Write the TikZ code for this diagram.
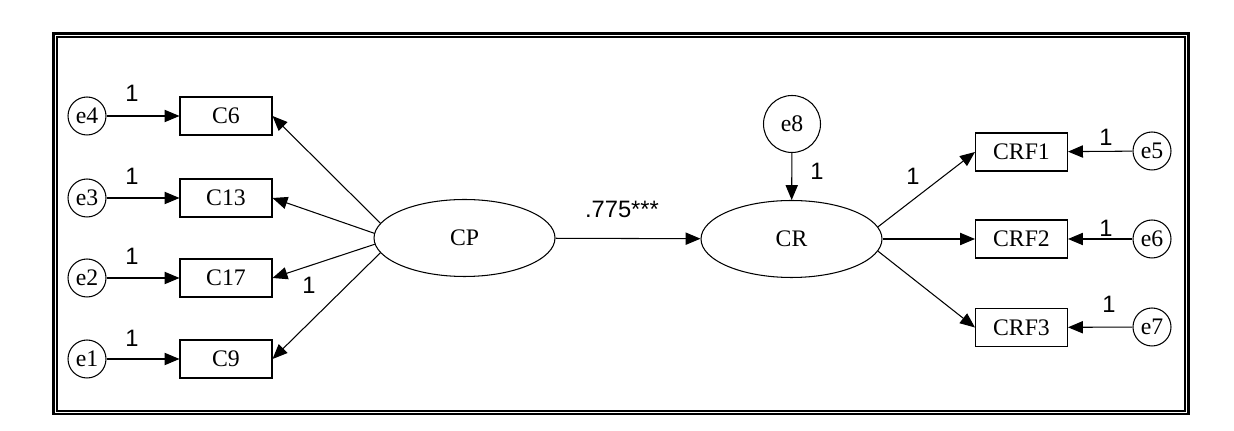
\documentclass[tikz,border=0pt]{standalone}
\usepackage{fontspec}
\setmainfont{Liberation Serif}
\newfontfamily\lblfont{Liberation Sans}
\usetikzlibrary{shapes.geometric,arrows.meta}
\tikzset{
  obsbox/.style={draw,line width=0.6pt,minimum width=1.84cm,minimum height=0.76cm,inner sep=0pt,font=\fontsize{13.5}{16}\selectfont},
  errnode/.style={draw,circle,line width=0.6pt,minimum size=0.76cm,inner sep=0pt,font=\fontsize{13.5}{16}\selectfont},
  latent/.style={draw,ellipse,line width=0.6pt,minimum width=3.62cm,minimum height=1.54cm,inner sep=0pt,font=\fontsize{13.5}{16}\selectfont},
  lnk/.style={-{Triangle[length=8.5pt,width=7pt]},line width=0.6pt},
  lbl/.style={font=\lblfont\fontsize{13.5}{16}\selectfont,inner sep=0pt}
}
\begin{document}
\begin{tikzpicture}[x=0.02cm,y=-0.02cm]
\useasboundingbox (0,0) rectangle (1234,431);
% frame
\draw[line width=1.7pt] (53.5,33.5) rectangle (1188,414);
\draw[line width=0.6pt] (57,37) rectangle (1185,411);
% left block
\node[errnode] (e4) at (87,116) {e4};
\node[errnode] (e3) at (87,198) {e3};
\node[errnode] (e2) at (87,278) {e2};
\node[errnode] (e1) at (87,359) {e1};
\node[obsbox] (C6) at (226,116) {C6};
\node[obsbox] (C13) at (226,198) {C13};
\node[obsbox] (C17) at (226,278) {C17};
\node[obsbox] (C9) at (226,359) {C9};
\node[latent] (CP) at (464.5,238) {CP};
% right block
\node[latent] (CR) at (791.5,239) {CR};
\node[errnode,minimum size=1.14cm] (e8) at (792,124) {e8};
\node[obsbox] (CRF1) at (1021.5,152) {CRF1};
\node[obsbox] (CRF2) at (1021.5,239) {CRF2};
\node[obsbox] (CRF3) at (1021.5,327.5) {CRF3};
\node[errnode] (e5) at (1152,151) {e5};
\node[errnode] (e6) at (1152,239) {e6};
\node[errnode] (e7) at (1152,327) {e7};
% arrows
\draw[lnk] (e4) -- (C6);
\draw[lnk] (e3) -- (C13);
\draw[lnk] (e2) -- (C17);
\draw[lnk] (e1) -- (C9);
\draw[lnk] (CP.170) -- (C6.east);
\draw[lnk] (CP.177) -- (C13.east);
\draw[lnk] (CP.184) -- (C17.east);
\draw[lnk] (CP.190) -- (C9.east);
\draw[lnk] (CP) -- (CR);
\draw[lnk] (e8) -- (CR);
\draw[lnk] (CR.8) -- (CRF1.west);
\draw[lnk] (CR) -- (CRF2);
\draw[lnk] (CR.-8) -- (CRF3.west);
\draw[lnk] (e5) -- (CRF1);
\draw[lnk] (e6) -- (CRF2);
\draw[lnk] (e7) -- (CRF3);
% labels
\node[lbl] (l4) at (132,93) {1};
\node[lbl] (l3) at (132,176) {1};
\node[lbl] (l2) at (132,256) {1};
\node[lbl] (l1) at (132,338) {1};
\node[lbl] (lC9) at (309,285) {1};
\node[lbl] (lCR) at (622,209) {.775***};
\node[lbl] (l8) at (817,171) {1};
\node[lbl] (lF1) at (913,176) {1};
\node[lbl] (l5) at (1106,137) {1};
\node[lbl] (l6) at (1106,228) {1};
\node[lbl] (l7) at (1109,304) {1};
\end{tikzpicture}
\end{document}
